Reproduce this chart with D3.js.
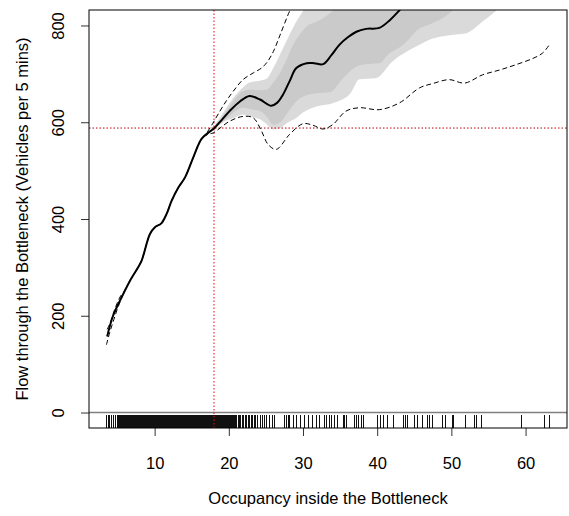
<!DOCTYPE html>
<html>
<head>
<meta charset="utf-8">
<script src="https://cdn.jsdelivr.net/npm/d3@7"></script>
<style>
  body { margin: 0; background: #fff; }
  svg text { font-family: "Liberation Sans", Arial, sans-serif; font-size: 16.5px; fill: #000; }
</style>
</head>
<body>
<svg id="chart"></svg>
<script>
// fitted flow curve
const fitX = [3.6, 4.4, 5.8, 6.7, 7.8, 8.25, 9.37, 10.04, 10.9, 11.6, 12.3, 13.2, 14.1, 15.2, 16.3, 17.2, 17.9, 19, 20.1, 21.5, 22.8, 24.2, 25.7, 26.5, 27.3, 28.2, 29.1, 30.5, 31.5, 32.7, 33.8, 34.9, 36, 37.2, 38.5, 40.3, 41.7, 42.8, 44];
const fitY = [157, 200, 246, 273, 301, 314, 369, 383, 391, 410, 438, 465, 486, 527, 565, 578, 586, 604, 623, 643, 654, 647, 634, 640, 657, 685, 712, 722, 722, 720, 738, 760, 775, 787, 793, 795, 811, 828, 850];

// dashed upper / lower limits
const upX = [3.6, 4.0, 4.5, 5.0, 5.5, 5.8, 6.7, 7.8, 8.25, 9.37, 10.04, 10.9, 11.6, 12.3, 13.2, 14.1, 15.2, 16.3, 17.0, 17.5, 18.8, 19.7, 20.6, 21.9, 23.3, 24.4, 25.2, 26.0, 26.9, 28.2, 29];
const upY = [172, 185, 208, 228, 243, 248, 273, 301, 314, 369, 383, 391, 410, 438, 465, 486, 527, 565, 578, 589, 623, 645, 664, 688, 702, 712, 725, 746, 780, 830, 855];
const loX = [3.5, 4.0, 4.5, 5.0, 5.5, 5.8, 6.7, 7.8, 8.25, 9.37, 10.04, 10.9, 11.6, 12.3, 13.2, 14.1, 15.2, 16.3, 17.2, 17.9, 20.1, 21.9, 23.3, 24.4, 25.3, 26.4, 28.2, 30.0, 31.3, 32.7, 34.0, 35.8, 37.6, 40.3, 43.0, 45.7, 47.5, 49.7, 51.8, 54.2, 56.5, 58.7, 61, 62.3, 63.2];
const loY = [140, 168, 192, 215, 235, 246, 273, 301, 314, 369, 383, 391, 410, 438, 465, 486, 527, 565, 575, 578, 602, 612, 609, 582, 554, 544, 575, 597, 594, 586, 595, 623, 630, 626, 640, 671, 680, 688, 681, 698, 708, 719, 732, 743, 760];

// outer (light) band
const outerX = [17.6, 19, 20.5, 21.9, 22.8, 24.2, 25.1, 26.0, 26.9, 28, 29.1, 30.0, 31.9, 34.1, 36.4, 37.6, 39.8, 42.1, 45.7, 47.5, 49.7, 52.0, 54.2, 56.0, 58];
const outerHi = [583, 614, 648, 672, 682, 686, 690, 712, 740, 775, 808, 830, 870, 900, 930, 950, 980, 1000, 1000, 1000, 1000, 1000, 1000, 1000, 1000];
const outerLo = [580, 598, 608, 616, 612, 606, 596, 585, 588, 600, 609, 620, 633, 640, 660, 689, 691, 726, 760, 773, 780, 784, 808, 830, 860];

// inner (dark) band
const innerX = [18, 20, 21.9, 23, 24.2, 25.1, 26.0, 27, 27.8, 28.5, 29.6, 30.5, 31.9, 33.6, 35.4, 37.2, 38.5, 40.3, 41.5, 43.5, 45.7, 46.9, 49.7, 52];
const innerHi = [585, 630, 664, 667, 666, 667, 682, 705, 730, 755, 782, 798, 808, 825, 850, 880, 900, 920, 950, 980, 1000, 1000, 1000, 1000];
const innerLo = [583, 612, 630, 627, 623, 612, 595, 601, 617, 632, 650, 656, 660, 662, 691, 715, 720, 722, 740, 760, 794, 801, 825, 860];

// observed occupancies (rug)
const rugObs = [3.54, 3.75, 3.98, 4.21, 4.43, 4.66, 4.79, 4.95,
  5.1, 5.2, 5.3, 5.4, 5.5, 5.6, 5.7, 5.8, 5.9, 6.0, 6.1, 6.2, 6.3, 6.4, 6.5, 6.6, 6.7, 6.8, 6.9, 7.0,
  7.1, 7.2, 7.3, 7.4, 7.5, 7.6, 7.7, 7.8, 7.9, 8.0, 8.1, 8.2, 8.3, 8.4, 8.5, 8.6, 8.7, 8.8, 8.9, 9.0,
  9.1, 9.2, 9.3, 9.4, 9.5, 9.6, 9.7, 9.8, 9.9, 10.0, 10.1, 10.2, 10.3, 10.4, 10.5, 10.6, 10.7, 10.8, 10.9, 11.0,
  11.1, 11.2, 11.3, 11.4, 11.5, 11.6, 11.7, 11.8, 11.9, 12.0, 12.1, 12.2, 12.3, 12.4, 12.5, 12.6, 12.7, 12.8, 12.9, 13.0,
  13.1, 13.2, 13.3, 13.4, 13.5, 13.6, 13.7, 13.8, 13.9, 14.0, 14.1, 14.2, 14.3, 14.4, 14.5, 14.6, 14.7, 14.8, 14.9, 15.0,
  15.1, 15.2, 15.3, 15.4, 15.5, 15.6, 15.7, 15.8, 15.9, 16.0, 16.1, 16.2, 16.3, 16.4, 16.5, 16.6, 16.7, 16.8, 16.9, 17.0,
  17.1, 17.2, 17.3, 17.4, 17.5, 17.6, 17.7, 17.8, 17.9, 18.0, 18.1, 18.2, 18.3, 18.4, 18.5, 18.6, 18.7, 18.8,
  18.9, 19.0, 19.1, 19.2, 19.3, 19.45, 19.55, 19.7, 19.8, 19.95, 20.1, 20.2, 20.35, 20.5, 20.6, 20.8, 20.95,
  21.1, 21.3, 21.45, 21.6, 21.8, 22.0, 22.2, 22.4, 22.6, 22.8, 23.0, 23.2, 23.4, 23.6,
  23.9, 24.3, 24.6, 24.8, 25.1, 25.5, 25.9, 26.2,
  27.5, 27.8, 28.0, 28.2, 28.7, 29.1, 29.7, 30.2, 30.7, 31.3, 31.8, 32.2, 32.9, 33.2, 33.6, 33.9, 34.3, 34.7,
  35.4, 35.6, 35.9, 36.9, 37.2, 37.5, 37.9, 38.1,
  40.1, 40.4, 40.9, 41.4, 42.2,
  43.5, 43.8, 44.1, 45.0, 45.5, 46.1, 46.8, 47.1, 47.4,
  48.8, 49.2, 50.1, 50.3, 51.9, 53.1, 53.4, 54.0,
  59.4, 62.5, 63.2];

const xTicks = [10, 20, 30, 40, 50, 60];
const yTicks = [0, 200, 400, 600, 800];
const yLim = [0, 800];
const capacityFlow = 588;
const criticalOcc = 18;

class FlowChart {

  constructor(_config) {
    this.config = {
      parentElement: _config.parentElement,
      containerWidth: _config.containerWidth || 569,
      containerHeight: _config.containerHeight || 516,
      margin: _config.margin || {top: 10, right: 2, bottom: 88, left: 89}
    };
    this.initVis();
  }

  initVis() {
    let vis = this;

    vis.width = vis.config.containerWidth - vis.config.margin.left - vis.config.margin.right;
    vis.height = vis.config.containerHeight - vis.config.margin.top - vis.config.margin.bottom;

    // R style 4% padding of the axis ranges
    const xr = d3.extent(rugObs);
    const xPad = (xr[1] - xr[0]) * 0.04;
    const yPad = (yLim[1] - yLim[0]) * 0.04;

    vis.xScale = d3.scaleLinear()
        .domain([xr[0] - xPad, xr[1] + xPad])
        .range([0, vis.width]);

    vis.yScale = d3.scaleLinear()
        .domain([yLim[0] - yPad, yLim[1] + yPad])
        .range([vis.height, 0]);

    vis.xAxis = d3.axisBottom(vis.xScale)
        .tickValues(xTicks)
        .tickSize(8)
        .tickSizeOuter(0);

    vis.yAxis = d3.axisLeft(vis.yScale)
        .tickValues(yTicks)
        .tickSize(8)
        .tickSizeOuter(0);

    vis.svg = d3.select(vis.config.parentElement)
        .attr('width', vis.config.containerWidth)
        .attr('height', vis.config.containerHeight);

    vis.chart = vis.svg.append('g')
        .attr('transform', `translate(${vis.config.margin.left},${vis.config.margin.top})`);

    vis.svg.append('defs').append('clipPath')
        .attr('id', 'plot-clip')
      .append('rect')
        .attr('width', vis.width)
        .attr('height', vis.height);

    vis.marks = vis.chart.append('g')
        .attr('clip-path', 'url(#plot-clip)');

    vis.xAxisG = vis.chart.append('g')
        .attr('transform', `translate(0,${vis.height})`);
    vis.yAxisG = vis.chart.append('g');

    vis.renderVis();
  }

  renderVis() {
    let vis = this;
    const x = vis.xScale, y = vis.yScale;
    const zip = (xs, ys) => xs.map((d, i) => [d, ys[i]]);

    const band = d3.area()
        .x(d => x(d.x))
        .y0(d => y(d.lo))
        .y1(d => y(d.hi))
        .curve(d3.curveMonotoneX);

    vis.marks.append('path')
        .datum(outerX.map((d, i) => ({x: d, lo: outerLo[i], hi: outerHi[i]})))
        .attr('fill', '#dadada')
        .attr('d', band);

    vis.marks.append('path')
        .datum(innerX.map((d, i) => ({x: d, lo: innerLo[i], hi: innerHi[i]})))
        .attr('fill', '#cacaca')
        .attr('d', band);

    // zero reference line
    vis.marks.append('line')
        .attr('x1', 0).attr('x2', vis.width)
        .attr('y1', y(0)).attr('y2', y(0))
        .attr('stroke', '#7f7f7f')
        .attr('stroke-width', 1.5);

    // rug
    vis.marks.selectAll('.rug')
        .data(rugObs)
        .join('line')
        .attr('class', 'rug')
        .attr('x1', d => x(d)).attr('x2', d => x(d))
        .attr('y1', vis.height - 13).attr('y2', vis.height)
        .attr('stroke', '#111')
        .attr('shape-rendering', 'crispEdges');

    // capacity reference lines
    vis.marks.append('line')
        .attr('x1', x(criticalOcc)).attr('x2', x(criticalOcc))
        .attr('y1', 0).attr('y2', vis.height)
        .attr('stroke', 'red')
        .attr('stroke-dasharray', '1.5,2');

    vis.marks.append('line')
        .attr('x1', 0).attr('x2', vis.width)
        .attr('y1', y(capacityFlow)).attr('y2', y(capacityFlow))
        .attr('stroke', '#b00')
        .attr('stroke-dasharray', '1.5,2');

    const line = d3.line()
        .x(d => x(d[0]))
        .y(d => y(d[1]))
        .curve(d3.curveCatmullRom.alpha(0.5));

    [zip(upX, upY), zip(loX, loY)].forEach(pts => {
      vis.marks.append('path')
          .datum(pts)
          .attr('fill', 'none')
          .attr('stroke', '#000')
          .attr('stroke-width', 1)
          .attr('stroke-dasharray', '5,3')
          .attr('d', line);
    });

    vis.marks.append('path')
        .datum(zip(fitX, fitY))
        .attr('fill', 'none')
        .attr('stroke', '#000')
        .attr('stroke-width', 2)
        .attr('d', line);

    // box
    vis.chart.append('rect')
        .attr('width', vis.width)
        .attr('height', vis.height)
        .attr('fill', 'none')
        .attr('stroke', '#000')
        .attr('stroke-width', 1);

    vis.xAxisG.call(vis.xAxis);
    vis.yAxisG.call(vis.yAxis);

    [vis.xAxisG, vis.yAxisG].forEach(g => {
      g.select('.domain').remove();
      g.selectAll('.tick line').attr('stroke', '#333');
      g.selectAll('text').attr('font-size', null).attr('font-family', null);
    });

    vis.xAxisG.selectAll('.tick text')
        .attr('y', 35)
        .attr('dy', '0.36em');

    // y tick labels parallel to axis
    vis.yAxisG.selectAll('.tick text')
        .attr('x', null)
        .attr('text-anchor', 'middle')
        .attr('transform', 'translate(-31,0) rotate(-90)')
        .attr('y', 0)
        .attr('dy', '0.36em');

    vis.svg.append('text')
        .attr('x', vis.config.margin.left + vis.width / 2)
        .attr('y', 498)
        .attr('dy', '0.36em')
        .attr('text-anchor', 'middle')
        .text('Occupancy inside the Bottleneck');

    vis.svg.append('text')
        .attr('transform', `translate(22,${vis.config.margin.top + vis.height / 2}) rotate(-90)`)
        .attr('dy', '0.36em')
        .attr('text-anchor', 'middle')
        .text('Flow through the Bottleneck (Vehicles per 5 mins)');
  }
}

new FlowChart({parentElement: '#chart'});
</script>
</body>
</html>
